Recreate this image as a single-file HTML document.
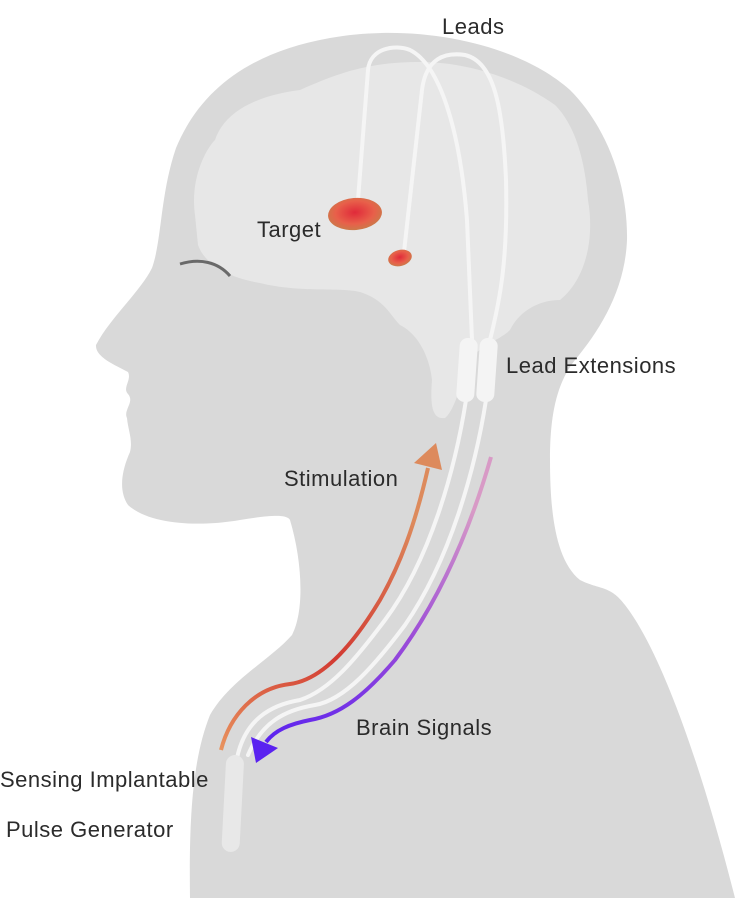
<!DOCTYPE html>
<html><head><meta charset="utf-8"><style>
html,body{margin:0;padding:0;background:#fff;}
svg{display:block}
text{font-family:"Liberation Sans",sans-serif;font-size:22px;fill:#2b2b2b;letter-spacing:0.5px;}
</style></head><body>
<svg width="735" height="898" viewBox="0 0 735 898" xmlns="http://www.w3.org/2000/svg">
<defs>
<linearGradient id="stim" x1="0" y1="1" x2="0.3" y2="0">
<stop offset="0" stop-color="#e8935e"/><stop offset="0.45" stop-color="#d23a32"/><stop offset="1" stop-color="#dd8a5c"/>
</linearGradient>
<linearGradient id="sig" x1="0.3" y1="0" x2="0" y2="1">
<stop offset="0" stop-color="#d89ac6"/><stop offset="0.5" stop-color="#9a4ad8"/><stop offset="1" stop-color="#5a22f0"/>
</linearGradient>
<radialGradient id="tg" cx="0.5" cy="0.45" r="0.6">
<stop offset="0" stop-color="#e02a3a"/><stop offset="0.6" stop-color="#e8604a"/><stop offset="1" stop-color="#c4804a"/>
</radialGradient>
</defs>
<path fill="#d9d9d9" d="M190,898 C189,820 192,760 210,715 C230,680 270,660 292,635 C305,610 302,560 290,520 C287,514 270,515 240,520 C200,527 150,525 128,505 C118,490 122,470 130,452 C133,440 128,430 127,418 C123,410 135,402 128,394 C122,388 132,380 128,372 C115,365 95,357 96,345 C110,318 140,292 152,268 C162,240 160,195 176,148 C200,90 250,52 330,38 C420,22 520,45 570,90 C610,130 628,190 627,240 C625,290 600,330 575,360 C555,385 550,420 550,460 C550,510 555,560 580,580 C600,590 610,585 625,605 C660,650 700,760 735,898 Z"/>
<path fill="#e7e7e7" d="M195,215 C190,180 205,150 215,140 C225,110 260,95 300,90 C340,72 370,62 420,62 C470,62 520,80 555,105 C575,125 585,160 588,200 C595,240 585,280 560,300 C540,300 520,310 510,330 C500,340 480,345 470,360 C460,385 455,410 445,418 C432,420 430,405 432,380 C430,360 420,335 400,325 C390,315 385,300 360,292 C340,287 300,293 260,283 C230,278 205,265 198,245 Z"/>
<path d="M180,264 C200,258 218,262 230,276" stroke="#6a6a6a" stroke-width="3" fill="none"/>
<g fill="none" stroke="#f5f5f5" stroke-width="4" stroke-linecap="round">
<path d="M358,200 L368,70 C370,48 395,44 410,50 C440,65 460,130 467,220 L472,340"/>
<path d="M404,252 L422,90 C426,58 445,52 465,55 C495,62 503,110 506,180 C508,260 500,300 490,340"/>
<path d="M466,400 C455,470 430,560 385,620 C355,660 330,690 300,700 C270,705 245,720 237,758"/>
<path d="M486,400 C475,470 450,560 405,625 C375,665 345,700 315,705 C285,710 262,722 248,755"/>
</g>
<rect x="458" y="338" width="18" height="64" rx="8" fill="#f4f4f4" transform="rotate(4 467 370)"/>
<rect x="478" y="338" width="18" height="64" rx="8" fill="#f4f4f4" transform="rotate(4 487 370)"/>
<rect x="224" y="755" width="18" height="97" rx="9" fill="#e8e8e8" transform="rotate(3 233 800)"/>
<ellipse cx="355" cy="214" rx="27" ry="16" fill="url(#tg)" transform="rotate(-5 355 214)"/>
<ellipse cx="400" cy="258" rx="12" ry="8" fill="url(#tg)" transform="rotate(-15 400 258)"/>
<path d="M221,750 C230,715 255,688 290,684 C320,680 350,650 380,600 C400,565 415,525 428,468" stroke="url(#stim)" stroke-width="4" fill="none"/>
<polygon points="436,443 442,470 414,463" fill="#dd8a5c"/>
<path d="M491,457 C470,530 440,600 395,660 C365,695 340,715 310,720 C290,724 275,730 266,742" stroke="url(#sig)" stroke-width="4" fill="none"/>
<polygon points="256,763 251,737 278,748" fill="#5a22f0"/>
<text x="442" y="34">Leads</text>
<text x="257" y="237">Target</text>
<text x="506" y="373">Lead Extensions</text>
<text x="284" y="486">Stimulation</text>
<text x="356" y="735">Brain Signals</text>
<text x="0" y="787">Sensing Implantable</text>
<text x="6" y="837">Pulse Generator</text>
</svg>
</body></html>
